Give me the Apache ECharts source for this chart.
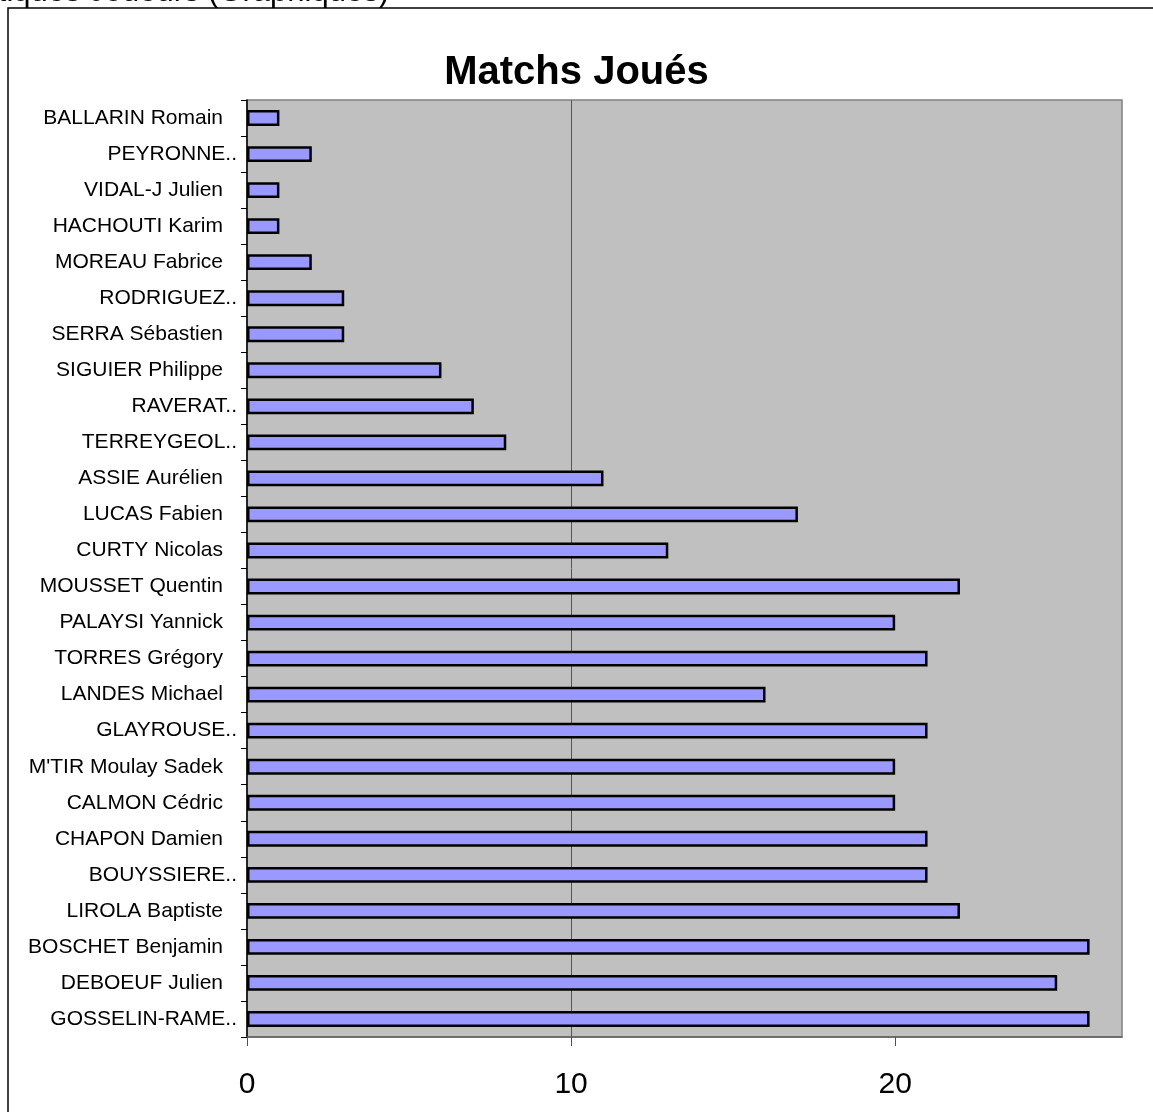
<!DOCTYPE html>
<html>
<head>
<meta charset="utf-8">
<script src="https://cdn.jsdelivr.net/npm/echarts@6/dist/echarts.min.js"></script>
<style>
  html, body { margin: 0; padding: 0; background: #fff; }
  #chart { width: 1153px; height: 1112px; }
</style>
</head>
<body>
<div id="chart"></div>
<script>
const pageTitle = 'Statistiques Joueurs (Graphiques)'
const chartTitle = 'Matchs Joués'
const players = [
  'BALLARIN Romain', 'PEYRONNE..', 'VIDAL-J Julien', 'HACHOUTI Karim',
  'MOREAU Fabrice', 'RODRIGUEZ..', 'SERRA Sébastien', 'SIGUIER Philippe',
  'RAVERAT..', 'TERREYGEOL..', 'ASSIE Aurélien', 'LUCAS Fabien',
  'CURTY Nicolas', 'MOUSSET Quentin', 'PALAYSI Yannick', 'TORRES Grégory',
  'LANDES Michael', 'GLAYROUSE..', "M'TIR Moulay Sadek", 'CALMON Cédric',
  'CHAPON Damien', 'BOUYSSIERE..', 'LIROLA Baptiste', 'BOSCHET Benjamin',
  'DEBOEUF Julien', 'GOSSELIN-RAME..'
]
const matchs = [
  1, 2, 1, 1,
  2, 3, 3, 6,
  7, 8, 11, 17,
  13, 22, 20, 21,
  16, 21, 20, 20,
  21, 21, 22, 26,
  25, 26
]
const xTicks = [0, 10, 20]

const font = "'Liberation Sans', Arial, sans-serif"
const chart = echarts.init(document.getElementById('chart'))

const option = {
  animation: false,
  backgroundColor: '#fff',
  graphic: [
    {
      type: 'rect',
      shape: { x: 8, y: 8, width: 1300, height: 1300 },
      style: { fill: 'none', stroke: '#000', lineWidth: 1.5 },
      z: 0
    },
    {
      type: 'text',
      x: 389,
      y: -8,
      style: {
        text: pageTitle,
        font: '31px ' + font,
        fill: '#000',
        align: 'right',
        verticalAlign: 'middle'
      }
    }
  ],
  title: {
    text: chartTitle,
    left: 'center',
    top: 48,
    textStyle: {
      fontSize: 40,
      fontWeight: 'bold',
      fontFamily: font,
      color: '#000'
    }
  },
  grid: {
    left: 247,
    top: 100,
    right: 31,
    bottom: 75,
    show: true,
    backgroundColor: '#c0c0c0',
    borderColor: '#808080',
    borderWidth: 1.5,
    outerBoundsMode: 'none'
  },
  xAxis: {
    type: 'value',
    min: 0,
    max: 27,
    interval: 10,
    axisLine: { show: true, lineStyle: { color: '#606060', width: 1.5 } },
    axisTick: {
      show: true,
      length: 9,
      customValues: xTicks,
      lineStyle: { color: '#505050', width: 1 }
    },
    axisLabel: {
      customValues: xTicks,
      margin: 33,
      fontSize: 30,
      fontFamily: font,
      color: '#000'
    },
    splitLine: {
      show: true,
      showMinLine: false,
      showMaxLine: false,
      lineStyle: { color: '#555', width: 1 }
    }
  },
  yAxis: {
    type: 'category',
    inverse: true,
    data: players,
    axisLine: { show: true, lineStyle: { color: '#000', width: 1.5 } },
    axisTick: { show: true, length: 6, lineStyle: { color: '#000', width: 1 } },
    axisLabel: {
      margin: 10,
      interval: 0,
      fontSize: 21,
      fontFamily: font,
      color: '#000',
      formatter: function (v) {
        return v.endsWith('..') ? '{t|' + v + '}' : '{n|' + v + '}'
      },
      rich: {
        n: { fontSize: 21, fontFamily: font, color: '#000', padding: [0, 14, 0, 0] },
        t: { fontSize: 21, fontFamily: font, color: '#000' }
      }
    }
  },
  series: [
    {
      name: chartTitle,
      type: 'bar',
      data: matchs,
      barWidth: '44%',
      itemStyle: {
        color: '#9999ff',
        borderColor: '#000',
        borderWidth: 2.5
      }
    }
  ]
}
chart.setOption(option)
</script>
</body>
</html>
